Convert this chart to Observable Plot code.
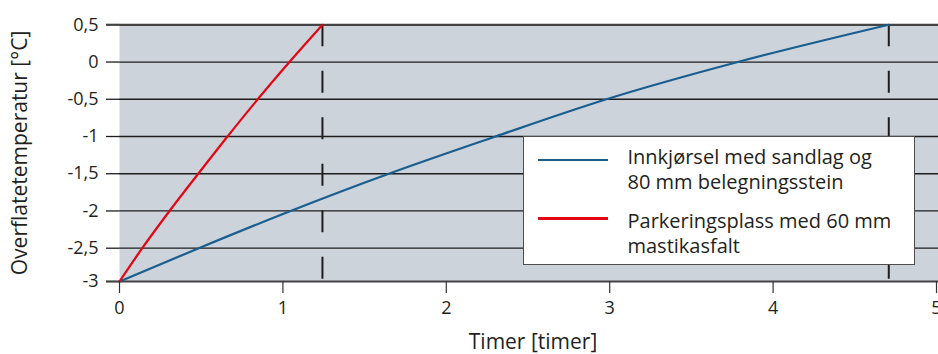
<!DOCTYPE html>
<html>
<head>
<meta charset="utf-8">
<script src="https://cdn.jsdelivr.net/npm/d3@7"></script>
<script src="https://cdn.jsdelivr.net/npm/@observablehq/plot@0.6"></script>
<style>
  html, body { margin: 0; padding: 0; background: #fff; }
  #wrap { position: relative; width: 938px; height: 354px; overflow: hidden; font-family: "Open Sans", sans-serif; color: #231f20; }
  #legend { position: absolute; left: 522.7px; top: 135.7px; width: 392px; height: 129.6px; box-sizing: border-box; border: 1.5px solid #4d4d4d; background: #fff; }
  .sw { position: absolute; left: 14.8px; width: 70px; height: 2.2px; }
  .lt { position: absolute; left: 103.8px; font-size: 20px; line-height: 25px; white-space: nowrap; color: #231f20; }
</style>
</head>
<body>
<div id="wrap"></div>
<script>
// ---- data ----
const xTicks = [0, 1, 2, 3, 4, 5];
const yTicks = [-3, -2.5, -2, -1.5, -1, -0.5, 0, 0.5];
const xTitle = "Timer [timer]";
const yTitle = "Overflatetemperatur [°C]";
const seriesNames = ["Innkjørsel med sandlag og 80 mm belegningsstein", "Parkeringsplass med 60 mm mastikasfalt"];
const seriesLines = [["Innkjørsel med sandlag og", "80 mm belegningsstein"], ["Parkeringsplass med 60 mm", "mastikasfalt"]];
const seriesColors = ["#1a5e90", "#e30613"];
// Innkjørsel (blue)
const blueX = [0, 0.485, 1.047, 1.648, 2.301, 2.980, 3.784, 4.708];
const blueY = [-3, -2.5, -2, -1.5, -1, -0.5, 0, 0.5];
// Parkeringsplass (red)
const redX = [0, 0.139, 0.306, 0.482, 0.661, 0.846, 1.040, 1.242];
const redY = [-3, -2.5, -2, -1.5, -1, -0.5, 0, 0.5];
// time at which each surface reaches 0.5 °C (dashed markers)
const markerTimes = [1.242, 4.708];

// ---- build ----
const rows = [
  ...blueX.map((x, i) => ({x, y: blueY[i], s: seriesNames[0]})),
  ...redX.map((x, i) => ({x, y: redY[i], s: seriesNames[1]}))
];
const yMin = d3.min(yTicks), yMax = d3.max(yTicks);
const edgeTicks = [yMin, yMax];
const midTicks = yTicks.filter(d => d !== yMin && d !== yMax);
const fmt = d => String(d).replace(".", ",");
const ink = "#231f20";

const chart = Plot.plot({
  width: 938,
  height: 354,
  marginLeft: 119,
  marginRight: 0,
  marginTop: 24,
  marginBottom: 73,
  style: {fontFamily: '"Open Sans", sans-serif', color: ink, background: "transparent", overflow: "visible"},
  x: {domain: [0, 5], range: [119, 936]},
  y: {type: "linear", domain: [-3, -2.5, 0.5], range: [281, 247.7, 24.3]},
  color: {domain: seriesNames, range: seriesColors},
  marks: [
    Plot.frame({fill: "#ccd3da", stroke: null}),
    Plot.ruleY(midTicks, {stroke: "#1e1e1e", strokeWidth: 1.3}),
    Plot.ruleY(edgeTicks, {stroke: "#444", strokeWidth: 2.2}),
    Plot.ruleX(markerTimes, {x: d => d, y1: yMax, y2: yMin, stroke: "#1e1e1e", strokeWidth: 2, strokeDasharray: "22 24.5"}),
    Plot.line(rows, {x: "x", y: "y", z: "s", stroke: "s", strokeWidth: 2.2, curve: "monotone-x"}),
    Plot.axisY({ticks: midTicks, tickSize: 13, tickPadding: 8, tickFormat: fmt, fontSize: 18, stroke: "#1e1e1e", strokeWidth: 1.3, label: null}),
    Plot.axisY({ticks: edgeTicks, tickSize: 13, tickPadding: 8, tickFormat: fmt, fontSize: 18, stroke: "#444", strokeWidth: 2.2, label: null}),
    Plot.axisX({ticks: xTicks, tickSize: 12, tickPadding: 8, tickFormat: d => String(d), fontSize: 18, stroke: "#333", strokeWidth: 1.2, label: null}),
    Plot.text([yTitle], {text: d => d, frameAnchor: "left", textAnchor: "middle", lineAnchor: "middle", rotate: -90, dx: -99, fontSize: 21, fill: ink}),
    Plot.text([xTitle], {text: d => d, frameAnchor: "bottom", lineAnchor: "middle", dy: 61, dx: 4, fontSize: 21, fill: ink})
  ]
});

const wrap = document.getElementById("wrap");
wrap.appendChild(chart);

// legend overlay
const legend = document.createElement("div");
legend.id = "legend";
const swTop = [22.4, 80.7];
const txtTop = [7.5, 71.2];
seriesNames.forEach((name, i) => {
  const sw = document.createElement("div");
  sw.className = "sw";
  sw.style.top = swTop[i] + "px";
  sw.style.background = seriesColors[i];
  legend.appendChild(sw);
  const t = document.createElement("div");
  t.className = "lt";
  t.style.top = txtTop[i] + "px";
  t.innerHTML = seriesLines[i].join("<br>");
  legend.appendChild(t);
});
wrap.appendChild(legend);
</script>
</body>
</html>
